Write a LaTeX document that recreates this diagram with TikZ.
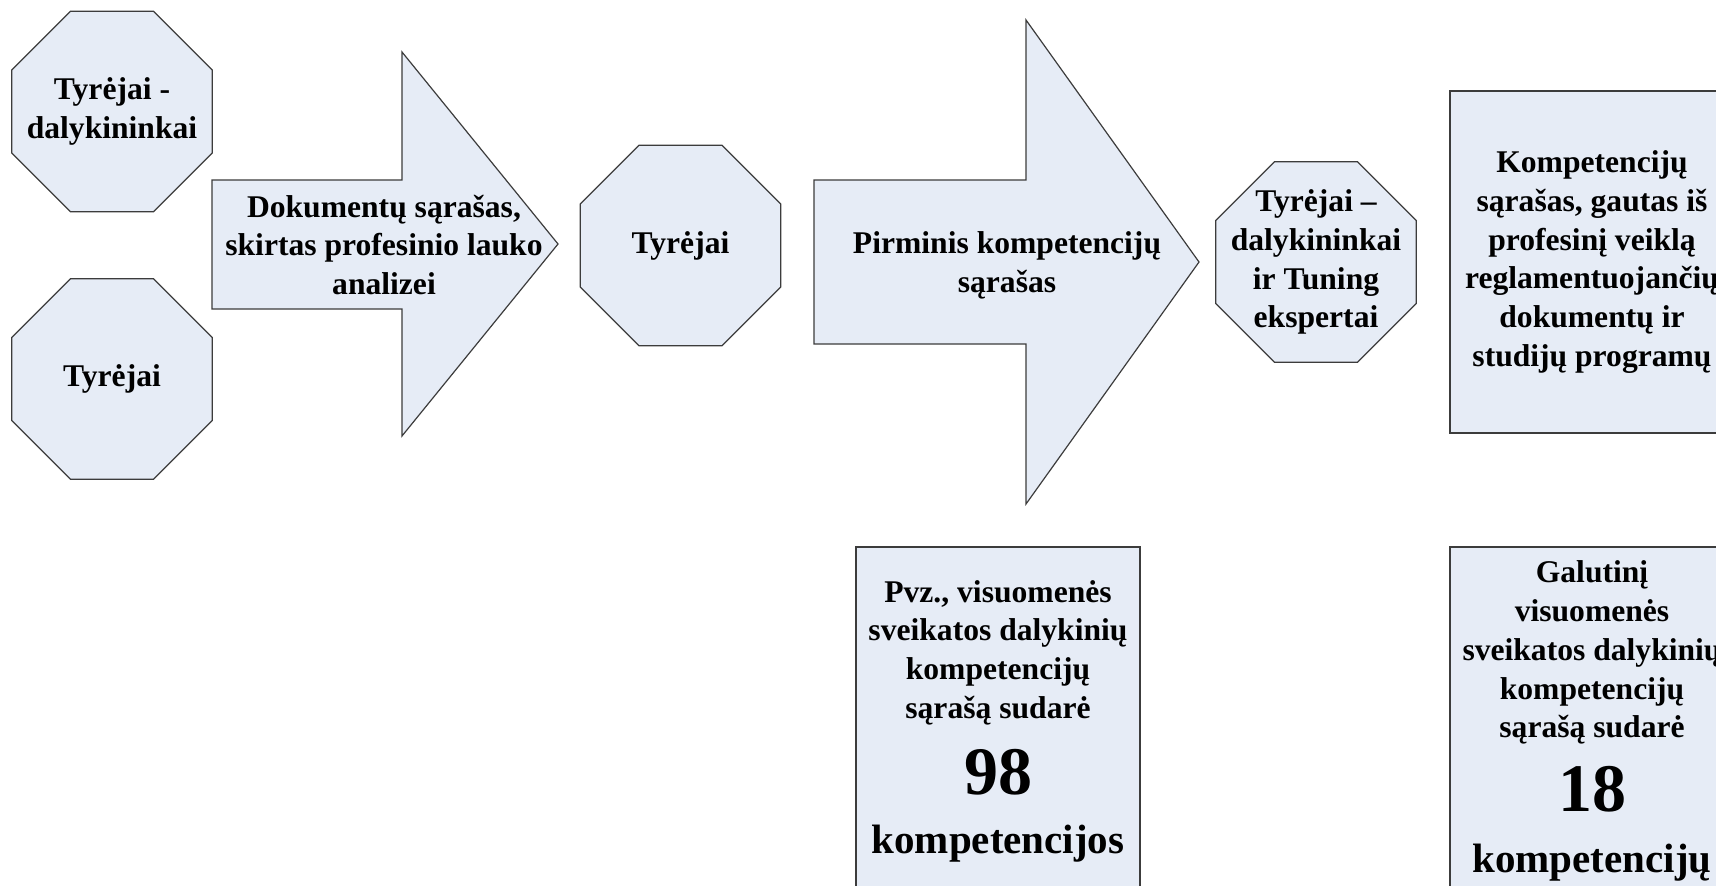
\documentclass[tikz,border=0pt]{standalone}
\usepackage{fontspec}
\setmainfont{Liberation Serif}
\usetikzlibrary{shapes.geometric}
\definecolor{melsva}{RGB}{230,236,246}
\definecolor{krastas}{RGB}{60,60,60}

\begin{document}
\begin{tikzpicture}[x=0.5pt,y=-0.5pt,
    okta/.style={regular polygon,regular polygon sides=8,minimum size=108.5pt,
      inner sep=-10pt,draw=krastas,fill=melsva,line width=0.6pt},
    blokas/.style={rectangle,minimum width=142pt,minimum height=174pt,
      inner sep=0pt,draw=krastas,fill=melsva,line width=0.6pt},
    rodykle/.style={draw=krastas,fill=melsva,line width=0.6pt,line join=miter},
    font=\fontsize{15.8}{19.4}\selectfont\bfseries,align=center]
    \clip (0,0) rectangle (1716,885);
    % tyrejai
    \node[okta] (tyr1) at (112,111.5) {Tyrėjai -\\dalykininkai};
    \node[okta] (tyr2) at (112,379) {Tyrėjai};
    % pirma rodykle
    \draw[rodykle] (212,180) -- (402,180) -- (402,52) -- (558,244)
      -- (402,436) -- (402,309) -- (212,309) -- cycle;
    \node (doc) at (384,245) {Dokumentų sąrašas,\\skirtas profesinio lauko\\analizei};
    \node[okta] (tyr3) at (680.5,245.5) {Tyrėjai};
    % antra rodykle
    \draw[rodykle] (814,180) -- (1026,180) -- (1026,20) -- (1199,262)
      -- (1026,504) -- (1026,344) -- (814,344) -- cycle;
    \node (pirm) at (1007,265) {Pirminis kompetencijų\\sąrašas};
    \node[okta] (tyr4) at (1316,262) {Tyrėjai –\\dalykininkai\\ir Tuning\\ekspertai};
    % sarasai
    \node[blokas,minimum height=171pt] (komp) at (1592,262) {Kompetencijų\\sąrašas, gautas iš\\profesinį veiklą\\reglamentuojančių\\dokumentų ir\\studijų programų};
    \node[blokas] (pvz) at (998,721) {Pvz., visuomenės\\sveikatos dalykinių\\kompetencijų\\sąrašą sudarė\\[11pt]
      {\fontsize{34}{34}\selectfont 98}\\[10pt]{\fontsize{20.5}{24}\selectfont kompetencijos}};
    \node[blokas] (gal) at (1592,721) {Galutinį\\visuomenės\\sveikatos dalykinių\\kompetencijų\\sąrašą sudarė\\[10pt]
      {\fontsize{34}{34}\selectfont 18}\\[11pt]{\fontsize{20.5}{24}\selectfont kompetencijų}};
\end{tikzpicture}
\end{document}
